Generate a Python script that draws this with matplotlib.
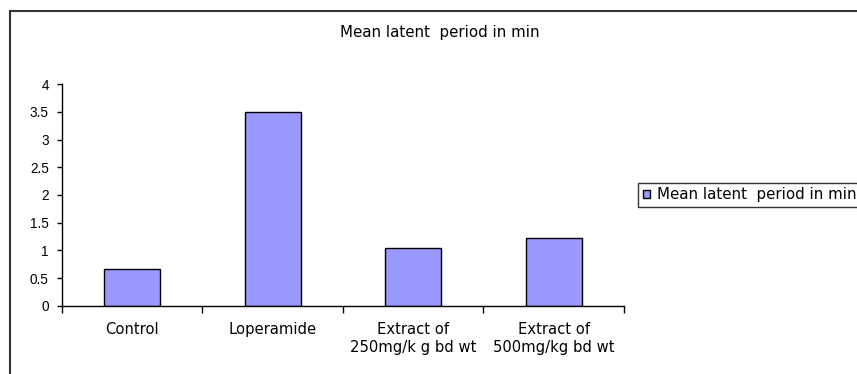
import matplotlib
matplotlib.use("Agg")
import matplotlib.pyplot as plt
from matplotlib.patches import Rectangle

plt.rcParams['font.family'] = ['DejaVu Sans']

categories = ["Control", "Loperamide", "Extract of\n250mg/k g bd wt", "Extract of\n500mg/kg bd wt"]
values = [0.66, 3.5, 1.04, 1.22]
series_name = "Mean latent  period in min"
yticks = [0, 0.5, 1, 1.5, 2, 2.5, 3, 3.5, 4]
ytick_labels = ["0", "0.5", "1", "1.5", "2", "2.5", "3", "3.5", "4"]

fig = plt.figure(figsize=(8.57, 3.74), dpi=100)

# chart-area frame, running off the right and bottom edges
fig.patches.append(Rectangle((10 / 857, -0.05), 1.0, 1 - 11 / 374 + 0.05,
                             transform=fig.transFigure, fill=False,
                             edgecolor="#333333", linewidth=1.5))

ax = fig.add_axes([62 / 857, 1 - 305.7 / 374, (624 - 62) / 857, (305.7 - 84.3) / 374])
x = list(range(len(categories)))
bars = ax.bar(x, values, width=0.4, color="#9999FF", edgecolor="black",
              linewidth=1.0, label=series_name)

ax.set_xlim(-0.5, len(categories) - 0.5)
ax.set_ylim(0, 4)
ax.set_yticks(yticks)
ax.set_yticklabels(ytick_labels, fontsize=9.8, family="Liberation Sans")
ax.set_xticks(x)
ax.set_xticklabels(categories, fontsize=10.6, linespacing=1.25)
ax.tick_params(axis="x", which="major", length=0, pad=12)
ax.set_xticks([i + 0.5 for i in range(-1, len(categories))], minor=True)
ax.tick_params(axis="x", which="minor", length=5, width=1.0, direction="out")
ax.tick_params(axis="y", length=3.5, width=1.0, direction="out", pad=6)
for s in ["top", "right"]:
    ax.spines[s].set_visible(False)
for s in ["left", "bottom"]:
    ax.spines[s].set_linewidth(1.0)

fig.text(440 / 857, 1 - 32 / 374, series_name, ha="center", va="center", fontsize=10.8)

leg = fig.legend(handles=[bars], labels=[series_name], loc="center left",
                 bbox_to_anchor=(638 / 857, 1 - 195 / 374), fontsize=10.8,
                 frameon=True, fancybox=False, borderpad=0.32,
                 handlelength=0.5, handleheight=0.5, handletextpad=0.45,
                 borderaxespad=0)
leg.get_frame().set_edgecolor("black")
leg.get_frame().set_linewidth(1.0)

fig.savefig("out.png", dpi=100)
